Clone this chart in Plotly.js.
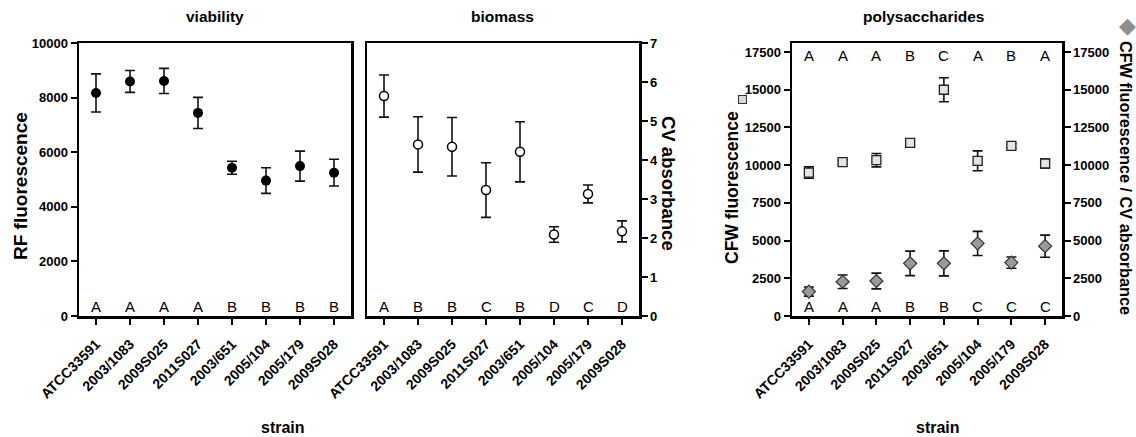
<!DOCTYPE html>
<html><head><meta charset="utf-8">
<script src="https://cdn.plot.ly/plotly-3.0.1.min.js"></script>
<style>html,body{margin:0;padding:0;background:#fff}#chart{width:1136px;height:437px}</style>
</head><body><div id="chart"></div>
<script>
const strains = ["ATCC33591","2003/1083","2009S025","2011S027","2003/651","2005/104","2005/179","2009S028"];

const viability = [8170, 8590, 8610, 7440, 5430, 4960, 5490, 5250];
const viabilityErr = [700, 400, 460, 570, 240, 470, 550, 490];
const viabilityLetters = ["A","A","A","A","B","B","B","B"];

const biomass = [5.64, 4.40, 4.34, 3.23, 4.21, 2.09, 3.13, 2.17];
const biomassErr = [0.54, 0.71, 0.75, 0.70, 0.77, 0.20, 0.23, 0.27];
const biomassLetters = ["A","B","B","C","B","D","C","D"];

const cfw = [9510, 10200, 10330, 11480, 15000, 10290, 11280, 10110];
const cfwErr = [380, 150, 440, 150, 800, 660, 150, 300];
const cfwLetters = ["A","A","A","B","C","A","B","A"];

const cfwPerCv = [1620, 2270, 2320, 3490, 3490, 4810, 3540, 4630];
const cfwPerCvErr = [300, 450, 520, 810, 830, 800, 370, 730];
const cfwPerCvLetters = ["A","A","A","B","B","C","C","C"];

const viabilityTicks = [0, 2000, 4000, 6000, 8000, 10000];
const biomassTicks = [0, 1, 2, 3, 4, 5, 6, 7];
const polyTicks = [0, 2500, 5000, 7500, 10000, 12500, 15000, 17500];

const W = 1136, H = 437;
const px = v => v / W, py = v => 1 - v / H;
const FF = "Liberation Sans, Arial, sans-serif";
const tickFont = {family: FF, size: 13, color: "#000", weight: "bold"};
const xTickFont = {family: FF, size: 14, color: "#000", weight: "bold"};

const errStyle = (arr) => ({type: "data", array: arr, visible: true, color: "#111", thickness: 1.6, width: 5});

const traces = [
  {x: strains, y: viability, error_y: errStyle(viabilityErr), type: "scatter", mode: "markers",
   marker: {color: "#000", size: 10}, xaxis: "x", yaxis: "y", cliponaxis: false},
  {x: strains, y: biomass, error_y: errStyle(biomassErr), type: "scatter", mode: "markers",
   marker: {color: "#fff", size: 9, line: {color: "#000", width: 1.5}}, xaxis: "x2", yaxis: "y2", cliponaxis: false},
  {x: strains, y: cfw, error_y: errStyle(cfwErr), type: "scatter", mode: "markers",
   marker: {symbol: "square", color: "#e4e4e4", size: 9, line: {color: "#222", width: 1.3}}, xaxis: "x3", yaxis: "y3", cliponaxis: false},
  {x: strains, y: cfwPerCv, error_y: errStyle(cfwPerCvErr), type: "scatter", mode: "markers",
   marker: {symbol: "diamond", color: "#9a9a9a", size: 10, line: {color: "#333", width: 1.2}}, xaxis: "x3", yaxis: "y4", cliponaxis: false}
];

const yDom = [py(316), py(43)];
const baseX = (dom) => ({
  domain: dom, type: "category", range: [-0.5, 7.5], showline: true, linewidth: 2.5, linecolor: "#000",
  mirror: true, ticks: "outside", ticklen: 6, tickwidth: 2, tickcolor: "#000", showgrid: false, zeroline: false,
  tickangle: -45, tickfont: xTickFont, ticklabelstandoff: 6
});
const baseY = (vals, extra) => Object.assign({
  domain: yDom, showline: true, linewidth: 2.5, linecolor: "#000", ticks: "outside", ticklen: 6, tickwidth: 2,
  tickcolor: "#000", showgrid: false, zeroline: false, tickfont: tickFont,
  tickmode: "array", tickvals: vals, ticktext: vals.map(String)
}, extra);

const annotations = [];
const addText = (text, x, y, size, bold, angle) => annotations.push({
  text: text, x: px(x), y: py(y), xref: "paper", yref: "paper", showarrow: false,
  xanchor: "center", yanchor: "middle", textangle: angle || 0,
  font: {family: FF, size: size, color: "#000", weight: bold ? "bold" : "normal"}
});
addText("viability", 215, 17, 15.5, true);
addText("biomass", 502, 17, 15.5, true);
addText("polysaccharides", 923, 17, 15.5, true);
addText("strain", 283, 427, 16, true);
addText("strain", 938, 427, 16, true);
addText("RF fluorescence", 21, 186, 19, true, -90);
addText("CV absorbance", 669, 183, 18.5, true, 90);
addText("CFW fluorescence", 732, 188, 17.5, true, -90);
addText("CFW fluorescence / CV absorbance", 1126, 178, 16.3, true, 90);
// legend symbols next to axis titles
annotations.push({text: " ", x: px(742), y: py(99), xref: "paper", yref: "paper", showarrow: false,
  width: 7, height: 7, bgcolor: "#d8d8d8", bordercolor: "#333", borderwidth: 1, borderpad: 0,
  xanchor: "center", yanchor: "middle", font: {size: 4}});
annotations.push({text: "◆", x: px(1127), y: py(25), xref: "paper", yref: "paper", showarrow: false,
  xanchor: "center", yanchor: "middle", font: {family: "DejaVu Sans", size: 22, color: "#8f8f8f"}});

const letterSets = [
  [viabilityLetters, "x", "y", 0.036],
  [biomassLetters, "x2", "y2", 0.036],
  [cfwPerCvLetters, "x3", "y3", 0.036],
  [cfwLetters, "x3", "y3", 0.955]
];
letterSets.forEach(([letters, xr, yr, yy]) => {
  letters.forEach((l, i) => annotations.push({
    text: l, x: strains[i], xref: xr, y: yy, yref: yr + " domain", showarrow: false,
    xanchor: "center", yanchor: "middle", font: {family: FF, size: 15, color: "#000"}
  }));
});

const layout = {
  width: W, height: H, margin: {l: 0, r: 0, t: 0, b: 0}, paper_bgcolor: "#fff", plot_bgcolor: "#fff",
  showlegend: false, font: {family: FF, color: "#000"},
  xaxis: Object.assign(baseX([px(79), px(351)]), {anchor: "y"}),
  yaxis: baseY(viabilityTicks, {anchor: "x", range: [0, 10000], mirror: true}),
  xaxis2: Object.assign(baseX([px(367), px(639)]), {anchor: "y2"}),
  yaxis2: baseY(biomassTicks, {anchor: "x2", side: "right", range: [0, 7], mirror: true}),
  xaxis3: Object.assign(baseX([px(792), px(1062)]), {anchor: "y3"}),
  yaxis3: baseY(polyTicks, {anchor: "x3", range: [0, 18100]}),
  yaxis4: baseY(polyTicks, {anchor: "x3", overlaying: "y3", side: "right", range: [0, 18100]}),
  annotations: annotations
};

Plotly.newPlot("chart", traces, layout, {staticPlot: true, displayModeBar: false});
</script></body></html>
